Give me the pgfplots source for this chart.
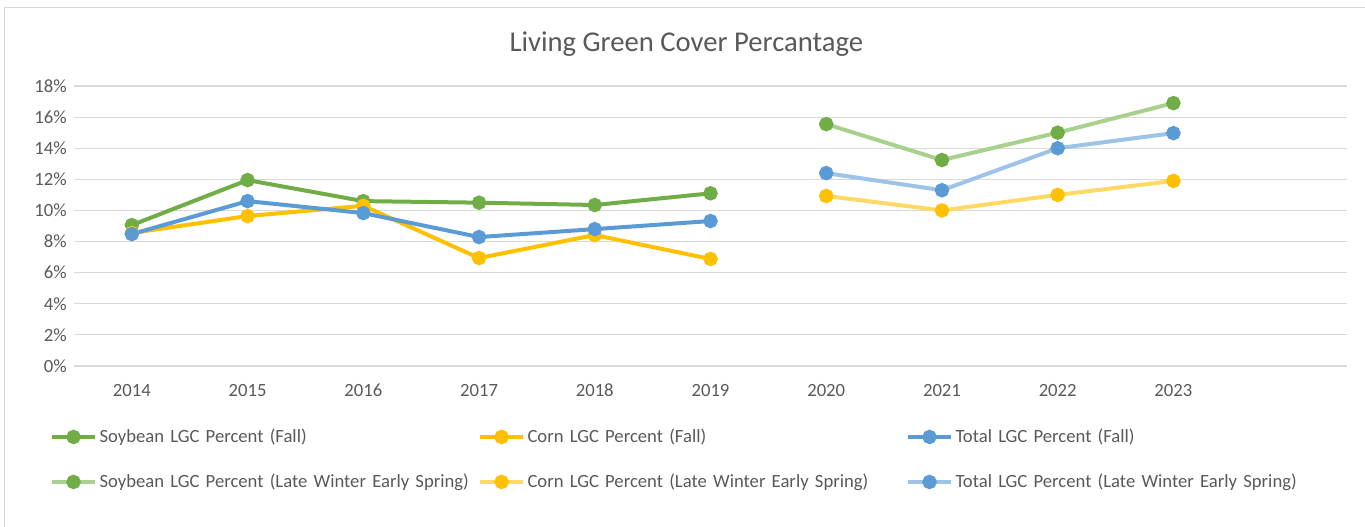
\documentclass[border=0pt]{standalone}
\usepackage{pgfplots}
\pgfplotsset{compat=1.18}
\usepackage{fontspec}
\setmainfont{Carlito}
\definecolor{cGreen}{HTML}{70AD47}
\definecolor{cYellow}{HTML}{FFC000}
\definecolor{cBlue}{HTML}{5B9BD5}
\definecolor{lGreen}{HTML}{A9D18E}
\definecolor{lYellow}{HTML}{FFD966}
\definecolor{lBlue}{HTML}{9DC3E6}
\definecolor{txt}{HTML}{595959}
\definecolor{gridc}{HTML}{D9D9D9}
\begin{document}
\begin{tikzpicture}
\path[use as bounding box] (0pt,0pt) rectangle (1023.75pt,-395.25pt);
\draw[gridc, line width=0.75pt] (3pt,-6pt) rectangle (1025pt,-397pt);
\begin{axis}[
  at={(55.5pt,-274.5pt)}, anchor=south west,
  scale only axis, width=954.75pt, height=210pt,
  xmin=-0.5, xmax=10.5, ymin=0, ymax=18,
  xtick={0,...,9},
  xticklabels={2014,2015,2016,2017,2018,2019,2020,2021,2022,2023},
  ytick={0,2,...,18},
  yticklabels={0\%,2\%,4\%,6\%,8\%,10\%,12\%,14\%,16\%,18\%},
  axis line style={draw=none},
  major tick length=0pt,
  xmajorgrids=false, ymajorgrids=true,
  major grid style={draw=gridc, line width=0.9pt},
  tick label style={font=\fontsize{14}{16}\selectfont, text=txt},
  xticklabel style={yshift=-10pt},
  yticklabel style={xshift=-2pt},
  title={Living Green Cover Percantage},
  title style={font=\fontsize{21.5}{25}\selectfont, text=txt, at={(0.481,1)}, anchor=center, yshift=25.5pt},
  every axis plot/.append style={line width=3pt, mark=*, mark size=3.9pt},
  legend columns=3,
  legend style={at={(-0.0189,-0.215)}, anchor=north west, draw=none, fill=none,
    inner sep=0pt, font=\fontsize{14}{16}\selectfont, text=txt,
    /tikz/every even column/.append style={text width=282pt, align=left},
    row sep=18pt},
  legend cell align=left,
  legend image code/.code={\draw[mark repeat=2,mark phase=2,#1] plot coordinates {(0pt,0pt) (16pt,0pt) (32pt,0pt)};},
]
\addplot[cGreen, mark options={fill=cGreen, draw=cGreen}] coordinates {(0,9.06) (1,11.95) (2,10.6) (3,10.5) (4,10.35) (5,11.1)};
\addlegendentry{Soybean LGC Percent (Fall)}
\addplot[cYellow, mark options={fill=cYellow, draw=cYellow}] coordinates {(0,8.55) (1,9.64) (2,10.3) (3,6.94) (4,8.42) (5,6.88)};
\addlegendentry{Corn LGC Percent (Fall)}
\addplot[cBlue, mark options={fill=cBlue, draw=cBlue}] coordinates {(0,8.48) (1,10.6) (2,9.83) (3,8.29) (4,8.8) (5,9.32)};
\addlegendentry{Total LGC Percent (Fall)}
\addplot[lGreen, mark options={fill=cGreen, draw=cGreen}] coordinates {(6,15.55) (7,13.24) (8,15.0) (9,16.9)};
\addlegendentry{Soybean LGC Percent (Late Winter Early Spring)}
\addplot[lYellow, mark options={fill=cYellow, draw=cYellow}] coordinates {(6,10.93) (7,10.0) (8,11.0) (9,11.9)};
\addlegendentry{Corn LGC Percent (Late Winter Early Spring)}
\addplot[lBlue, mark options={fill=cBlue, draw=cBlue}] coordinates {(6,12.4) (7,11.3) (8,14.0) (9,14.97)};
\addlegendentry{Total LGC Percent (Late Winter Early Spring)}
\end{axis}
\end{tikzpicture}
\end{document}
